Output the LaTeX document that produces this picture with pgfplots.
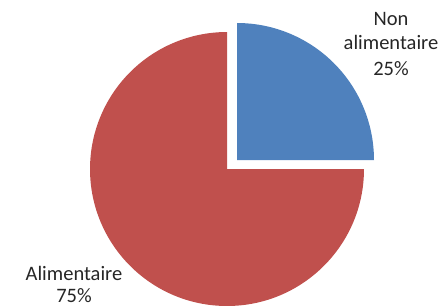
\documentclass[border=0pt]{standalone}
\usepackage{pgfplots}
\pgfplotsset{compat=1.18}
\usepackage{fontspec}
\setmainfont{Carlito}
\definecolor{pieblue}{HTML}{4F81BD}
\definecolor{piered}{HTML}{C0504D}
\definecolor{txt}{HTML}{262626}
% data (percent)
\def\valNon{25}
\def\valAli{75}
\begin{document}
\begin{tikzpicture}
\begin{axis}[width=445pt,height=306pt,scale only axis,
  xmin=0,xmax=445,ymin=0,ymax=306,hide axis,clip=false]
\path (rel axis cs:0,0) rectangle (rel axis cs:1,1);
\pgfmathsetmacro{\endNon}{90-3.6*\valNon}
\pgfmathsetmacro{\endAli}{\endNon-3.6*\valAli}
% Non alimentaire (exploded)
\fill[pieblue] (axis cs:237,146) -- ++(90:137pt)
  arc[start angle=90, end angle=\endNon, radius=137pt] -- cycle;
% Alimentaire
\fill[piered] (axis cs:227,137) -- ++(\endNon:137pt)
  arc[start angle=\endNon, end angle=\endAli, radius=137pt] -- cycle;
\begin{scope}[every node/.style={anchor=base,text=txt,font=\fontsize{20.5}{25}\selectfont,inner sep=0pt}]
\node at (axis cs:391,280) {Non};
\node at (axis cs:391,256) {alimentaire};
\node at (axis cs:391,230) {25\%};
\node at (axis cs:74,26) {Alimentaire};
\node at (axis cs:74,4) {75\%};
\end{scope}
\end{axis}
\end{tikzpicture}
\end{document}
